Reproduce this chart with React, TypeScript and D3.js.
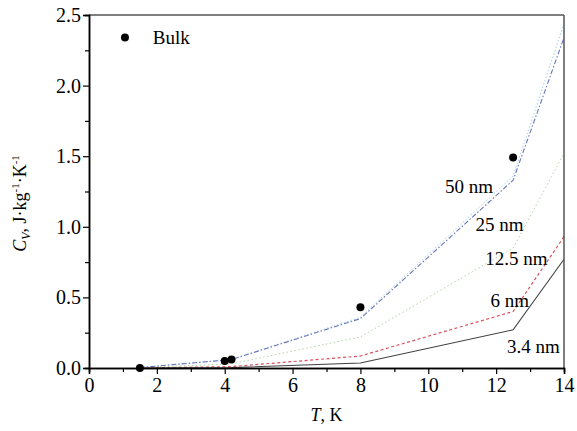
import React, { useEffect, useRef } from 'react';
import * as d3 from 'd3';

const temps = [1.5, 4.2, 8, 12.5, 14];
const nm50 = [0.003, 0.06, 0.35, 1.33, 2.34];
const nm50b = [0.003, 0.06, 0.36, 1.36, 2.44];
const nm25 = [0.001, 0.03, 0.22, 0.85, 1.52];
const nm125 = [0, 0.01, 0.085, 0.4, 0.93];
const nm34 = [0, 0.003, 0.035, 0.27, 0.77];

const bulkT = [1.5, 4.0, 4.2, 8, 12.5];
const bulkCv = [0.0, 0.05, 0.06, 0.43, 1.49];

const xTicks = [0, 2, 4, 6, 8, 10, 12, 14];
const yTicks = [0, 0.5, 1.0, 1.5, 2.0, 2.5];

const labels = ['50 nm', '25 nm', '12.5 nm', '6 nm', '3.4 nm'];
const labelT = [11.2, 12.1, 12.6, 12.4, 13.1];
const labelCv = [1.29, 1.02, 0.78, 0.48, 0.15];

const App = () => {
	const ref = useRef<SVGSVGElement>(null);

	useEffect(() => {
		const W = 577, H = 431;
		const margin = { top: 15, right: 13, bottom: 63, left: 89 };
		const width = W - margin.left - margin.right;
		const height = H - margin.top - margin.bottom;
		const font = "'Liberation Serif', 'Times New Roman', Times, 'DejaVu Serif', serif";

		const svg = d3.select(ref.current);
		svg.selectAll('*').remove();
		const g = svg.append('g').attr('transform', `translate(${margin.left},${margin.top})`);

		const x = d3.scaleLinear().domain([0, 14]).range([0, width]);
		const y = d3.scaleLinear().domain([0, 2.5]).range([height, 0]);

		const series = [
			{ v: nm50b, color: '#a8d0ea', dash: '1.5,2', w: 1 },
			{ v: nm25, color: '#b0d2a6', dash: '1.5,2.5', w: 1 },
			{ v: nm125, color: '#d9505e', dash: '3,2.5', w: 1.2 },
			{ v: nm34, color: '#404040', dash: null, w: 1.1 },
			{ v: nm50, color: '#6a78b8', dash: '5,2,1.5,2', w: 1.1 },
		];

		const line = d3.line<number>().x((d, i) => x(temps[i])).y(d => y(d));

		series.forEach(s => {
			g.append('path')
				.datum(s.v)
				.attr('fill', 'none')
				.attr('stroke', s.color)
				.attr('stroke-width', s.w)
				.attr('stroke-dasharray', s.dash)
				.attr('d', line);
		});

		g.selectAll('circle.bulk')
			.data(bulkT)
			.enter()
			.append('circle')
			.attr('cx', d => x(d))
			.attr('cy', (d, i) => y(bulkCv[i]))
			.attr('r', 4)
			.attr('fill', '#000');

		// frame
		g.append('line').attr('x1', 0).attr('x2', width).attr('y1', 0).attr('y2', 0)
			.attr('stroke', '#555').attr('stroke-width', 1.5);
		g.append('line').attr('x1', width).attr('x2', width).attr('y1', 0).attr('y2', height)
			.attr('stroke', '#555').attr('stroke-width', 1.5);

		const xAxis = g.append('g').attr('transform', `translate(0,${height})`)
			.call(d3.axisBottom(x).tickValues(d3.range(1, 14, 2)).tickSize(4).tickFormat(() => ''));
		const xMajor = g.append('g').attr('transform', `translate(0,${height})`)
			.call(d3.axisBottom(x).tickValues(xTicks).tickSize(6).tickPadding(4).tickFormat(d3.format('d')));
		const yMinor = g.append('g')
			.call(d3.axisLeft(y).tickValues(d3.range(0.25, 2.5, 0.5)).tickSize(4).tickFormat(() => ''));
		const yMajor = g.append('g')
			.call(d3.axisLeft(y).tickValues(yTicks).tickSize(6).tickPadding(2).tickFormat(d3.format('.1f')));

		[xAxis, xMajor, yMinor, yMajor].forEach(a => {
			a.attr('font-family', font);
			a.select('.domain').attr('stroke', '#000').attr('stroke-width', 1.5);
			a.selectAll('.tick line').attr('stroke', '#000').attr('stroke-width', 1.2);
			a.selectAll('text').attr('font-family', font).attr('font-size', 20).attr('fill', '#000');
		});

		labels.forEach((t, i) => {
			g.append('text')
				.attr('x', x(labelT[i]))
				.attr('y', y(labelCv[i]))
				.attr('text-anchor', 'middle')
				.attr('dy', '0.35em')
				.attr('font-family', font)
				.attr('font-size', 19)
				.text(t);
		});

		// legend
		g.append('circle').attr('cx', x(1.06)).attr('cy', y(2.34)).attr('r', 4).attr('fill', '#000');
		g.append('text').attr('x', x(1.88)).attr('y', y(2.34)).attr('dy', '0.35em')
			.attr('font-family', font).attr('font-size', 19).text('Bulk');

		// axis titles
		const xt = svg.append('text')
			.attr('x', margin.left + width / 2)
			.attr('y', 421)
			.attr('text-anchor', 'middle')
			.attr('font-family', font)
			.attr('font-size', 18);
		xt.append('tspan').attr('font-style', 'italic').text('T');
		xt.append('tspan').text(', K');

		const yt = svg.append('text')
			.attr('transform', `translate(26,${margin.top + height / 2 + 12}) rotate(-90)`)
			.attr('text-anchor', 'middle')
			.attr('font-family', font)
			.attr('font-size', 18);
		yt.append('tspan').attr('font-style', 'italic').text('C');
		yt.append('tspan').attr('font-style', 'italic').attr('font-size', 12).attr('dy', 4).text('V');
		yt.append('tspan').attr('dy', -4).text(', J·kg');
		yt.append('tspan').attr('font-size', 11).attr('dy', -7).text('-1');
		yt.append('tspan').attr('dy', 7).text('·K');
		yt.append('tspan').attr('font-size', 11).attr('dy', -7).text('-1');
	}, []);

	return <svg ref={ref} width={577} height={431} style={{ position: 'absolute', left: 0, top: 0, background: '#fff' }} />;
};

export default App;
